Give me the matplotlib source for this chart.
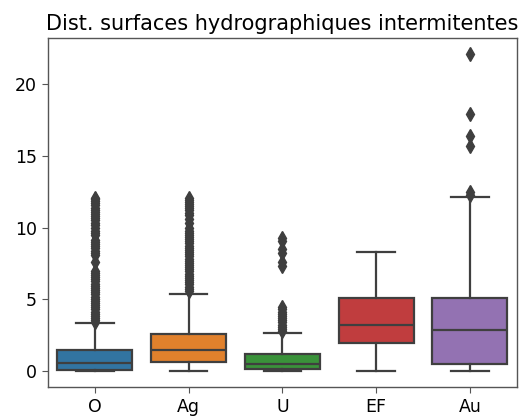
import matplotlib
matplotlib.use("Agg")
import matplotlib.pyplot as plt

# categories and summary stats
cats = ["O", "Ag", "U", "EF", "Au"]
colors = ["#3274a1", "#e1812c", "#3a923a", "#c03d3e", "#9372b2"]

q1 = [0.12, 0.63, 0.19, 1.97, 0.51]
med = [0.60, 1.46, 0.49, 3.20, 2.88]
q3 = [1.46, 2.58, 1.18, 5.09, 5.13]
whislo = [0.05, 0.05, 0.05, 0.05, 0.05]
whishi = [3.37, 5.41, 2.65, 8.32, 12.15]

fliers_O = [3.4, 3.55, 3.7, 3.85, 4.0, 4.15, 4.3, 4.45, 4.6, 4.75, 4.9, 5.05,
            5.2, 5.35, 5.5, 5.65, 5.8, 5.95, 6.1, 6.25, 6.4, 6.55, 6.7, 6.85,
            7.0, 7.6, 8.1, 8.25, 8.4, 8.55, 8.7, 8.85, 9.0, 9.15, 9.5, 9.65,
            9.8, 9.95, 10.2, 10.35, 10.5, 10.65, 10.8, 10.95, 11.1, 11.25,
            11.4, 11.55, 11.7, 11.85, 12.0, 12.1]
fliers_Ag = [5.6, 5.75, 5.9, 6.05, 6.2, 6.35, 6.5, 6.65, 6.8, 6.95, 7.1, 7.25,
             7.4, 7.55, 7.7, 7.85, 8.0, 8.15, 8.3, 8.45, 8.6, 8.75, 8.9, 9.05,
             9.2, 9.35, 9.5, 9.65, 9.8, 9.95, 10.3, 10.6, 10.9, 11.05, 11.2,
             11.35, 11.5, 11.65, 11.8, 11.95, 12.1]
fliers_U = [2.8, 2.95, 3.1, 3.25, 3.4, 3.55, 3.7, 3.85, 4.0, 4.15, 4.3, 4.45,
            7.3, 7.6, 8.2, 8.5, 9.1, 9.3]
fliers_EF = []
fliers_Au = [12.3, 12.5, 15.7, 16.4, 17.9, 22.1]
fliers = [fliers_O, fliers_Ag, fliers_U, fliers_EF, fliers_Au]

stats = []
for i in range(len(cats)):
    stats.append(dict(label=cats[i], q1=q1[i], med=med[i], q3=q3[i],
                      whislo=whislo[i], whishi=whishi[i], fliers=fliers[i]))

fig = plt.figure(figsize=(5.23, 4.19), dpi=100)
ax = fig.add_axes([0.092, 0.077, 0.896, 0.832])

gray = "#3f3f3f"
lw = 1.6
bp = ax.bxp(stats, positions=range(len(cats)), widths=0.8, patch_artist=True,
            boxprops=dict(edgecolor=gray, linewidth=lw),
            medianprops=dict(color=gray, linewidth=lw),
            whiskerprops=dict(color=gray, linewidth=lw),
            capprops=dict(color=gray, linewidth=lw),
            capwidths=0.4,
            flierprops=dict(marker="d", markersize=7, markerfacecolor=gray,
                            markeredgecolor=gray, linestyle="none"))
for patch, c in zip(bp["boxes"], colors):
    patch.set_facecolor(c)

for s in ax.spines.values():
    s.set_color("#555555")
    s.set_linewidth(1.0)

ax.set_xlim(-0.5, 4.5)
ax.set_ylim(-1.08, 23.2)
ax.set_yticks([0, 5, 10, 15, 20])
ax.tick_params(labelsize=12.5, length=4.5, color="#555555")
ax.set_title("Dist. surfaces hydrographiques intermitentes", fontsize=15)

fig.savefig("out.png", dpi=100)
